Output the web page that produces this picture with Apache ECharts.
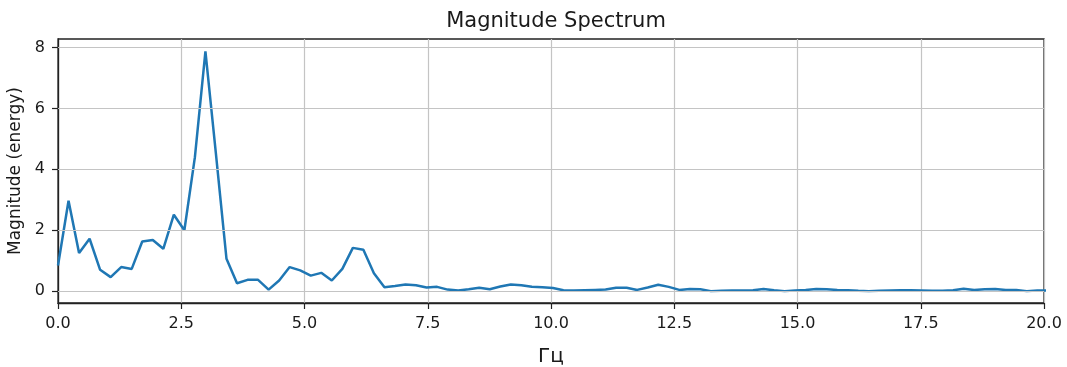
<!DOCTYPE html>
<html>
<head>
<meta charset="utf-8">
<script src="https://cdn.jsdelivr.net/npm/echarts@6/dist/echarts.min.js"></script>
<style>
  html, body { margin: 0; padding: 0; background: #ffffff; }
  #chart { width: 1067px; height: 367px; }
</style>
</head>
<body>
<div id="chart"></div>
<script>
// Spectrum bins: spacing between FFT frequency bins (Hz)
const binWidth = 0.2136;

// Magnitude per bin, starting at 0 Hz
const magnitude = [
  0.84, 2.97, 1.25, 1.72, 0.70, 0.46, 0.79, 0.73, 1.63, 1.68,
  1.39, 2.51, 2.00, 4.40, 7.87, 4.50, 1.06, 0.26, 0.37, 0.37,
  0.05, 0.35, 0.79, 0.68, 0.51, 0.60, 0.35, 0.73, 1.42, 1.36,
  0.59, 0.13, 0.17, 0.22, 0.19, 0.12, 0.14, 0.05, 0.02, 0.06,
  0.11, 0.06, 0.15, 0.22, 0.19, 0.14, 0.13, 0.10, 0.03, 0.02,
  0.03, 0.04, 0.05, 0.11, 0.11, 0.04, 0.12, 0.21, 0.14, 0.04,
  0.07, 0.06, 0.00, 0.01, 0.02, 0.02, 0.03, 0.07, 0.03, 0.00,
  0.02, 0.04, 0.07, 0.06, 0.04, 0.03, 0.01, 0.00, 0.01, 0.02,
  0.03, 0.03, 0.02, 0.01, 0.01, 0.03, 0.08, 0.04, 0.06, 0.07,
  0.04, 0.04, 0.00, 0.02, 0.02
];

// Axis ticks
const xTicks = [0, 2.5, 5, 7.5, 10, 12.5, 15, 17.5, 20];
const yTicks = [0, 2, 4, 6, 8];
const yRange = [-0.39, 8.28];

const frequencies = magnitude.map((_, i) => i * binWidth);
const points = magnitude.map((m, i) => [frequencies[i], m]);

const ink = '#1a1a1a';
const gridGrey = '#c4c4c4';

const chart = echarts.init(document.getElementById('chart'), null, { renderer: 'canvas' });

chart.setOption({
  animation: false,
  backgroundColor: '#ffffff',
  title: {
    text: 'Magnitude Spectrum',
    left: 551,
    top: 6,
    textAlign: 'center',
    textStyle: {
      fontFamily: 'DejaVu Sans',
      fontSize: 21,
      fontWeight: 'normal',
      color: ink
    }
  },
  grid: {
    left: 58,
    right: 23,
    top: 39,
    bottom: 64,
    containLabel: false,
    outerBoundsMode: 'none',
    show: true,
    borderColor: '#222222',
    borderWidth: 1.3,
    backgroundColor: 'transparent'
  },
  xAxis: {
    type: 'value',
    min: xTicks[0],
    max: xTicks[xTicks.length - 1],
    interval: 2.5,
    name: 'Гц',
    nameLocation: 'middle',
    nameGap: 44,
    nameTextStyle: { fontFamily: 'DejaVu Sans', fontSize: 20, color: ink },
    axisLine: { show: true, onZero: false, lineStyle: { color: '#222222', width: 1.3 } },
    axisTick: { show: true, length: 6, lineStyle: { color: '#222222', width: 1.2 } },
    axisLabel: {
      margin: 13,
      fontFamily: 'DejaVu Sans',
      fontSize: 16,
      color: ink,
      formatter: v => v.toFixed(1)
    },
    splitLine: { show: true, lineStyle: { color: gridGrey, width: 1.2 } }
  },
  yAxis: {
    type: 'value',
    min: yRange[0],
    max: yRange[1],
    name: 'Magnitude (energy)',
    nameLocation: 'middle',
    nameGap: 30,
    nameRotate: 90,
    nameTextStyle: { fontFamily: 'DejaVu Sans', fontSize: 17, color: ink },
    axisLine: { show: true, onZero: false, lineStyle: { color: '#222222', width: 1.3 } },
    axisTick: { show: true, length: 6, customValues: yTicks, lineStyle: { color: '#222222', width: 1.2 } },
    axisLabel: {
      margin: 13,
      fontFamily: 'DejaVu Sans',
      fontSize: 16,
      color: ink,
      customValues: yTicks,
      formatter: v => String(Math.round(v))
    },
    splitLine: { show: false }
  },
  series: [
    {
      // horizontal grid lines at the y ticks
      type: 'line',
      data: [],
      z: 1,
      silent: true,
      markLine: {
        silent: true,
        symbol: 'none',
        label: { show: false },
        lineStyle: { color: gridGrey, width: 1.2, type: 'solid' },
        data: yTicks.map(v => ({ yAxis: v }))
      }
    },
    {
      type: 'line',
      data: points,
      z: 3,
      clip: true,
      showSymbol: false,
      symbol: 'none',
      smooth: false,
      lineStyle: { color: '#1f77b4', width: 2.5 },
      itemStyle: { color: '#1f77b4' }
    }
  ]
});
</script>
</body>
</html>
